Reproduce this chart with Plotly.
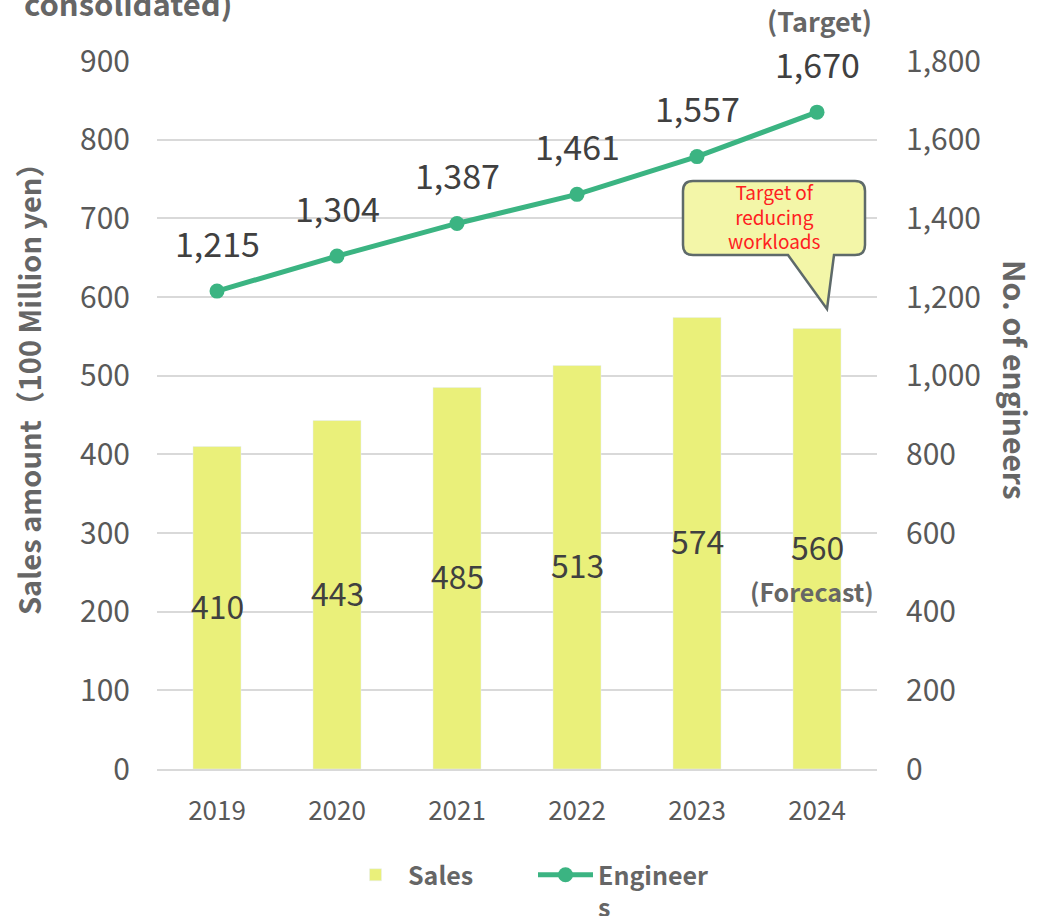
import plotly.graph_objects as go

years = [2019, 2020, 2021, 2022, 2023, 2024]
year_labels = ["2019", "2020", "2021", "2022", "2023", "2024"]
sales = [410, 443, 485, 513, 574, 560]
engineers = [1215, 1304, 1387, 1461, 1557, 1670]
sales_labels = ["410", "443", "485", "513", "574", "560"]
eng_labels = ["1,215", "1,304", "1,387", "1,461", "1,557", "1,670"]

W, H = 1037, 916
L, R, T, B = 157, 877, 61, 769
PW, PH = R - L, B - T

def px(x):
    return (x - L) / PW

def py(y):
    return (B - y) / PH

BAR = "#EAF07A"
LINE = "#3BB482"
GRID = "#D9D9D9"
TXT = "#595959"
TITLE = "#666666"
FONT = "Noto Sans CJK JP"

fig = go.Figure()
fig.add_trace(go.Bar(x=years, y=sales, name="<b>Sales</b>", marker_color=BAR, width=0.4,
                     yaxis="y"))
fig.add_trace(go.Scatter(x=years, y=engineers, name="<b>Engineer<br>s</b>",
                         mode="lines+markers",
                         line=dict(color=LINE, width=5), marker=dict(size=15, color=LINE),
                         yaxis="y2"))

ann = []
for yr, v, t in zip(years, sales, sales_labels):
    ann.append(dict(x=yr, y=v / 2, xref="x", yref="y", text=t, showarrow=False, yshift=3,
                    font=dict(size=32, color="#404040", family=FONT)))
for yr, v, t in zip(years, engineers, eng_labels):
    ann.append(dict(x=yr, y=v, xref="x", yref="y2", text=t, showarrow=False, yshift=49,
                    font=dict(size=34, color="#404040", family=FONT)))

def paper_text(x, y, text, size, color=TITLE, angle=0):
    return dict(x=px(x), y=py(y), xref="paper", yref="paper", text=text, textangle=angle,
                xanchor="center", yanchor="middle", showarrow=False,
                font=dict(size=size, color=color, family=FONT))

ann.append(paper_text(819, 20, "<b>(Target)</b>", 27))
ann.append(paper_text(812, 591, "<b>(Forecast)</b>", 25))
ann.append(paper_text(128, 3, "<b>consolidated)</b>", 31))
ann.append(paper_text(28, 382, "<b>Sales amount（100 Million yen）</b>", 29, angle=-90))
ann.append(paper_text(1016, 380, "<b>No. of engineers</b>", 30, angle=90))
ann.append(paper_text(774, 216, "Target of<br>reducing<br>workloads", 19, color="#FF2020"))

# callout bubble path
x0, x1, y0, y1, r = 683, 865, 181, 255, 10
def P(x, y):
    return f"{px(x):.5f},{py(y):.5f}"
path = (f"M {P(x0 + r, y0)} L {P(x1 - r, y0)} Q {P(x1, y0)} {P(x1, y0 + r)} "
        f"L {P(x1, y1 - r)} Q {P(x1, y1)} {P(x1 - r, y1)} "
        f"L {P(834, y1)} L {P(827, 309)} L {P(788, y1)} "
        f"L {P(x0 + r, y1)} Q {P(x0, y1)} {P(x0, y1 - r)} "
        f"L {P(x0, y0 + r)} Q {P(x0, y0)} {P(x0 + r, y0)} Z")

shapes = [dict(type="path", xref="paper", yref="paper", path=path,
               fillcolor="#F3F6A8", line=dict(color="#5E6A6A", width=2.5), layer="above")]

fig.update_layout(
    width=W, height=H, autosize=False,
    margin=dict(l=L, r=W - R, t=T, b=H - B),
    paper_bgcolor="white", plot_bgcolor="white",
    font=dict(family=FONT, color=TXT),
    xaxis=dict(range=[2018.5, 2024.5], tickvals=years, ticktext=year_labels,
               showgrid=False, showline=True, linecolor=GRID, linewidth=2, zeroline=False,
               ticks="", tickfont=dict(size=26, color=TXT), ticklabelstandoff=18),
    yaxis=dict(range=[0, 900], dtick=100, showgrid=True, gridcolor=GRID, gridwidth=2,
               zeroline=False, showline=False, tickfont=dict(size=30, color=TXT),
               ticklabelstandoff=26),
    yaxis2=dict(range=[0, 1800], dtick=200, overlaying="y", side="right", showgrid=False,
                zeroline=False, showline=False, tickfont=dict(size=30, color=TXT),
                tickformat=",d", ticklabelstandoff=28),
    showlegend=True,
    legend=dict(orientation="h", xref="container", x=343 / W, xanchor="left",
                yref="container", y=1 - 852 / H, yanchor="top", valign="top",
                font=dict(size=25, color=TITLE, family=FONT), traceorder="normal",
                itemwidth=55, entrywidth=120, entrywidthmode="pixels"),
    annotations=ann, shapes=shapes,
)

fig.write_html("out.html", config={"displayModeBar": False},
               post_script="document.body.style.margin='0px';")
